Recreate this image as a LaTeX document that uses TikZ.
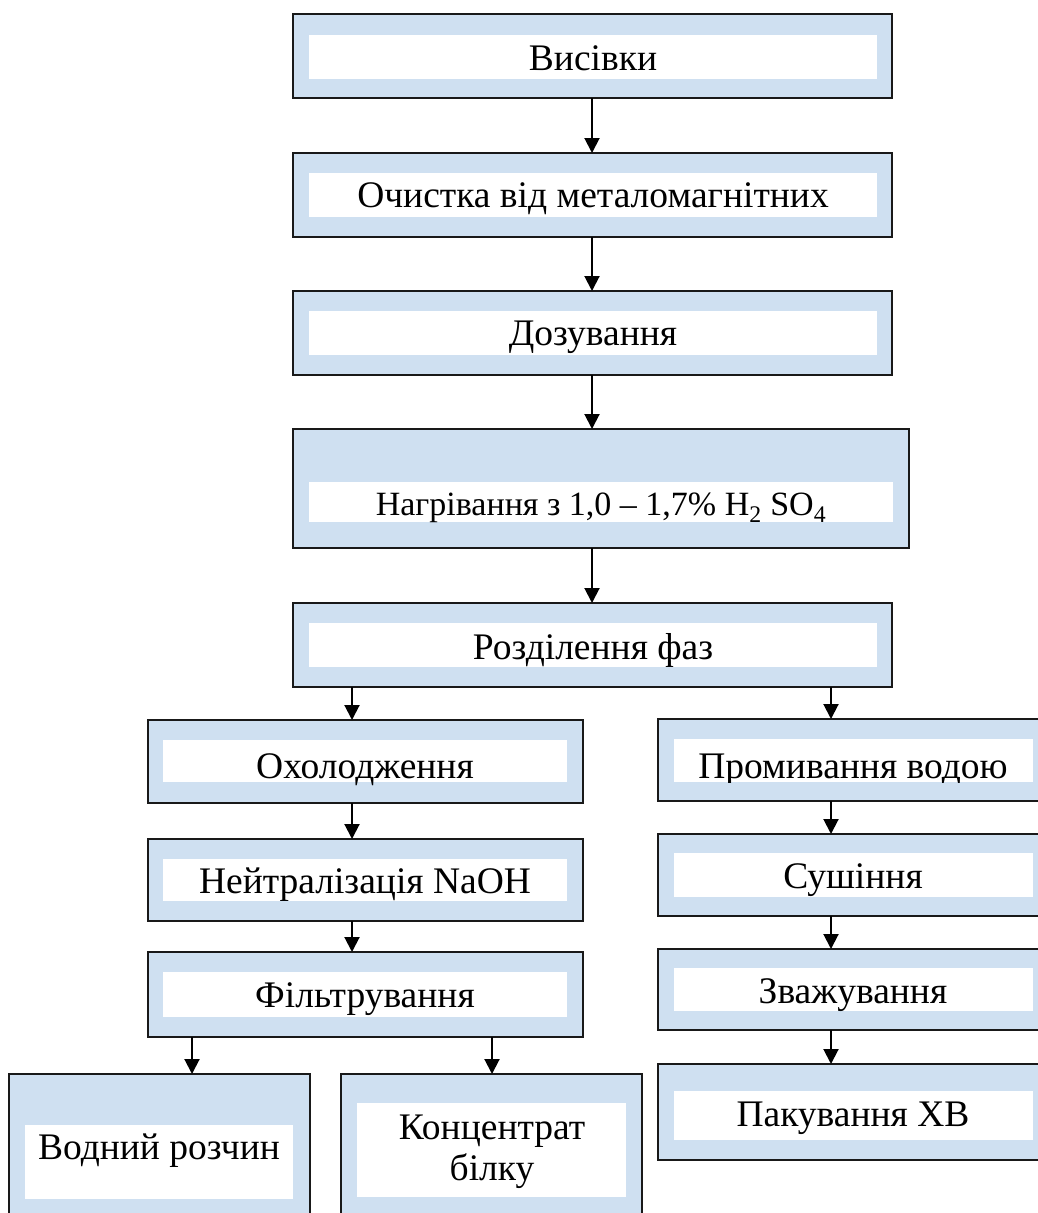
\documentclass[tikz,border=0pt]{standalone}
\usepackage{fontspec}
\setmainfont{Liberation Serif}
\usetikzlibrary{arrows.meta,fit}
\definecolor{boxblue}{RGB}{207,224,241}
\definecolor{edge}{RGB}{25,25,25}
\begin{document}
\begin{tikzpicture}[x=1pt,y=-1pt,
  obox/.style={draw=edge, line width=2.5pt, fill=boxblue, inner sep=0pt, outer sep=0pt},
  ibox/.style={fill=white, draw=none, inner sep=0pt, outer sep=0pt},
  lbl/.style={font=\fontsize{37.5}{41}\selectfont, inner sep=0pt, anchor=base},
  slbl/.style={font=\fontsize{34}{38}\selectfont, inner sep=0pt, anchor=base},
  arr/.style={draw=black, line width=2pt, -{Triangle[length=15pt,width=15pt]}}]
\useasboundingbox (0,0) rectangle (1038,1213);
\clip (0,0) rectangle (1038,1213);

% central column
\node[obox, fit={(293,14)(892,98)}] (b1) {};
\node[ibox, fit={(309,35)(877,79)}] (i1) {};
\node[lbl] (t1) at (593,70) {Висівки};

\node[obox, fit={(293,153)(892,237)}] (b2) {};
\node[ibox, fit={(309,173)(877,217)}] (i2) {};
\node[lbl] (t2) at (593,207) {Очистка від металомагнітних};

\node[obox, fit={(293,291)(892,375)}] (b3) {};
\node[ibox, fit={(309,311)(877,355)}] (i3) {};
\node[lbl] (t3) at (593,345) {Дозування};

\node[obox, fit={(293,429)(909,548)}] (b4) {};
\node[ibox, fit={(309,482)(893,522)}] (i4) {};
\node[slbl] (t4) at (601,515) {Нагрівання з 1,0 – 1,7\% H\textsubscript{2} SO\textsubscript{4}};

\node[obox, fit={(293,603)(892,687)}] (b5) {};
\node[ibox, fit={(309,623)(877,667)}] (i5) {};
\node[lbl] (t5) at (593,659) {Розділення фаз};

% left column
\node[obox, fit={(148,720)(583,803)}] (oh) {};
\node[ibox, fit={(163,740)(567,782)}] (ioh) {};
\node[lbl] (toh) at (365,778) {Охолодження};

\node[obox, fit={(148,839)(583,921)}] (ne) {};
\node[ibox, fit={(163,859)(567,901)}] (ine) {};
\node[lbl] (tne) at (365,893) {Нейтралізація NaOH};

\node[obox, fit={(148,952)(583,1037)}] (fi) {};
\node[ibox, fit={(163,972)(567,1017)}] (ifi) {};
\node[lbl] (tfi) at (365,1007) {Фільтрування};

\node[obox, fit={(9,1074)(310,1235)}] (vr) {};
\node[ibox, fit={(25,1125)(293,1199)}] (ivr) {};
\node[lbl] (tvr) at (159,1159) {Водний розчин};

\node[obox, fit={(341,1074)(642,1235)}] (kb) {};
\node[ibox, fit={(357,1103)(626,1197)}] (ikb) {};
\node[lbl] (tkb1) at (492,1139) {Концентрат};
\node[lbl] (tkb2) at (492,1180) {білку};

% right column
\node[obox, fit={(658,719)(1050,801)}] (pr) {};
\node[ibox, fit={(674,739)(1033,782)}] (ipr) {};
\begin{scope}
\clip (674,739) rectangle (1033,782);
\node[lbl] (tpr) at (853,778) {Промивання водою};
\end{scope}

\node[obox, fit={(658,834)(1050,916)}] (su) {};
\node[ibox, fit={(674,853)(1033,897)}] (isu) {};
\node[lbl] (tsu) at (853,888) {Сушіння};

\node[obox, fit={(658,949)(1050,1030)}] (zv) {};
\node[ibox, fit={(674,968)(1033,1011)}] (izv) {};
\node[lbl] (tzv) at (853,1003) {Зважування};

\node[obox, fit={(658,1064)(1050,1160)}] (pk) {};
\node[ibox, fit={(674,1091)(1033,1140)}] (ipk) {};
\node[lbl] (tpk) at (853,1126) {Пакування ХВ};

% guide coordinates for arrows
\coordinate (cM) at (592,0);
\coordinate (cL) at (352,0);
\coordinate (cR) at (831,0);
\coordinate (cA) at (192,0);
\coordinate (cB) at (492,0);

% connectors
\draw[arr] (b1.south -| cM) -- (b2.north -| cM);
\draw[arr] (b2.south -| cM) -- (b3.north -| cM);
\draw[arr] (b3.south -| cM) -- (b4.north -| cM);
\draw[arr] (b4.south -| cM) -- (b5.north -| cM);
\draw[arr] (b5.south -| cL) -- (oh.north -| cL);
\draw[arr] (b5.south -| cR) -- (pr.north -| cR);
\draw[arr] (oh.south -| cL) -- (ne.north -| cL);
\draw[arr] (ne.south -| cL) -- (fi.north -| cL);
\draw[arr] (fi.south -| cA) -- (vr.north -| cA);
\draw[arr] (fi.south -| cB) -- (kb.north -| cB);
\draw[arr] (pr.south -| cR) -- (su.north -| cR);
\draw[arr] (su.south -| cR) -- (zv.north -| cR);
\draw[arr] (zv.south -| cR) -- (pk.north -| cR);
\end{tikzpicture}
\end{document}
